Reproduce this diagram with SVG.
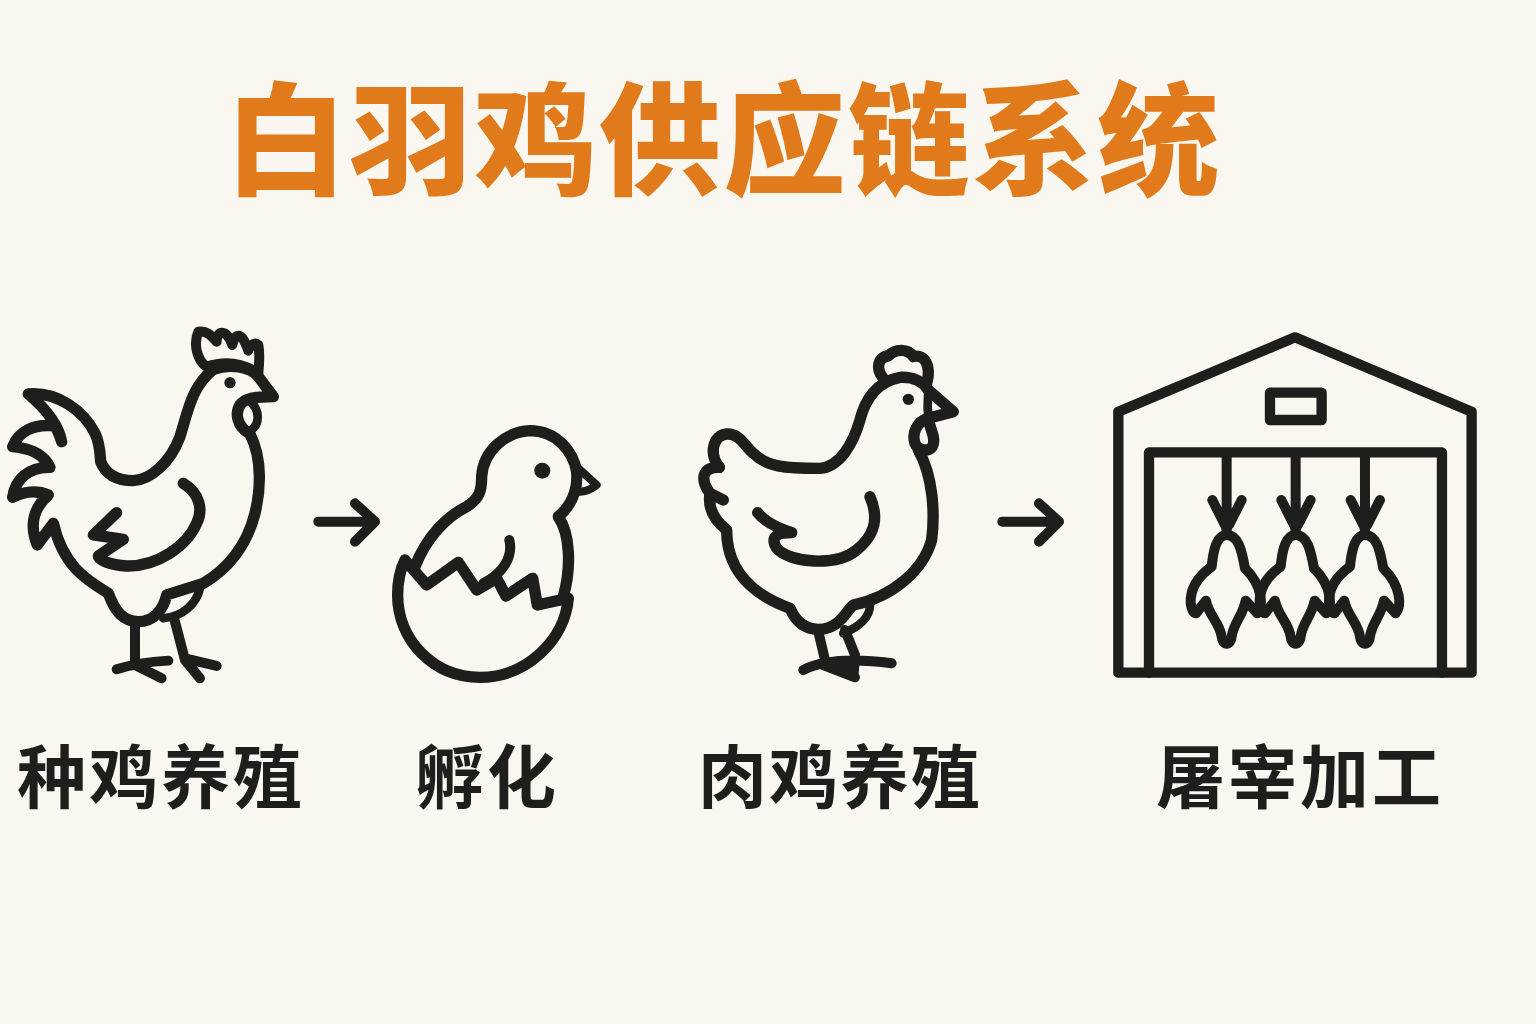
<svg xmlns="http://www.w3.org/2000/svg" width="1536" height="1024" viewBox="0 0 1536 1024">
<style>
.ln{fill:none;stroke:#1e1e1c;stroke-width:34;stroke-linecap:round;stroke-linejoin:round}
.fl{fill:#1e1e1c}
.ttl{font-family:"Noto Sans CJK SC",sans-serif;font-weight:900;font-size:122px;fill:#E07A1B;letter-spacing:2.6px}
.lbl{font-family:"Noto Sans CJK SC",sans-serif;font-weight:700;font-size:69px;fill:#1e1e1c;letter-spacing:3px}
</style>
<defs>
<g id="carcass">
<path class="ln" style="stroke-width:30" d="M380 645C350 645 340 690 335 740C300 765 270 800 272 850C275 870 280 880 288 880L318 842C325 885 360 910 365 950C367 978 393 978 395 950C400 910 430 885 437 842L472 880C490 860 490 800 435 745C425 690 415 645 380 645Z"/>
<path class="ln" style="stroke-width:30" d="M380 400V610M337 540L375 615M425 540L387 615"/>
<path class="fl" d="M358 585H402L394 640H366Z"/>
</g>
</defs>
<rect width="1536" height="1024" fill="#FAF7F0"/>
<text class="ttl" x="225" y="185">白羽鸡供应链系统</text>
<g id="connectors">
<path class="ln" style="stroke-width:30" transform="translate(300,410) scale(.3333)" d="M55 335H225M165 280L225 335L165 395"/>
<path class="ln" style="stroke-width:30" transform="translate(984,410) scale(.3333)" d="M55 335H225M165 280L225 335L165 395"/>
</g>
<g id="node-breeder">
<g transform="translate(0,310) scale(.3333)">
<path class="ln" d="M85 252C170 245 250 300 285 370C300 400 300 430 302 455C320 500 360 512 400 512C450 510 510 460 540 380C565 300 575 230 640 178C690 160 750 170 775 200L820 260C780 262 740 258 720 285C705 310 710 350 750 372C790 450 780 550 765 610C740 710 680 780 610 820L500 855C490 900 460 935 415 935C370 935 345 905 325 850C260 810 190 770 160 640L112 705C85 640 105 590 145 555C110 540 70 545 38 562C45 510 85 470 150 472C130 430 90 415 38 410C55 365 100 340 165 348C175 365 180 380 185 395C175 340 130 290 85 252Z"/>
<path class="ln" style="stroke-width:26" d="M745 270C785 300 780 350 745 365"/>
<path class="ln" style="stroke-width:30" d="M620 170C590 150 580 100 595 65C625 60 640 85 650 95C650 60 680 55 697 105C705 70 725 60 745 122C750 105 765 95 775 105C780 130 778 160 775 190M620 170C680 150 730 160 775 190"/>
<path class="ln" d="M550 520C600 550 610 600 590 640C560 710 470 770 380 768C330 765 295 750 295 738L370 688L280 675L350 608"/>
<path class="ln" style="stroke-width:26" d="M600 835C590 880 550 920 490 925"/>
<path class="ln" style="stroke-width:30" d="M405 940V1060M350 1078C400 1062 450 1055 505 1052M405 1065L485 1105M525 935L555 1050L600 1105M555 1045L650 1068"/>
<circle class="fl" cx="690" cy="218" r="17"/>
</g>
</g>
<g id="node-hatch">
<g transform="translate(300,410) scale(.3333)">
<path class="ln" d="M345 470C380 380 440 320 500 290C540 265 545 240 545 200C550 120 620 65 690 62C770 62 820 125 830 185C835 250 810 290 775 320C810 370 815 470 790 560"/>
<path class="ln" style="stroke-width:24" d="M835 175L890 225C870 240 855 245 840 245"/>
<circle class="fl" cx="727" cy="182" r="24"/>
<path class="ln" style="stroke-width:30" d="M628 390C640 440 610 490 550 520"/>
<path class="ln" d="M315 450L380 525L475 457L530 540L590 505L618 558L698 505L712 585L805 565C795 690 680 802 540 802C400 802 293 690 293 555C293 515 300 480 315 450Z"/>
</g>
</g>
<g id="node-broiler">
<g transform="translate(680,340) scale(.3333)">
<path class="ln" d="M118 382C85 340 100 285 140 282C180 280 195 320 220 340C260 380 310 385 420 385C480 380 520 310 540 240C555 180 590 125 660 112C700 110 730 125 745 150L820 215L745 235C710 245 695 280 705 310C715 335 770 345 760 290C755 270 750 260 745 240"/>
<path class="ln" style="stroke-width:26" d="M745 150C745 170 740 190 745 235"/>
<path class="ln" d="M715 330C760 410 765 520 755 600C730 690 640 770 520 795C500 810 480 868 415 868C370 868 345 840 330 805C260 780 140 720 140 570C90 530 85 490 90 460L130 480M90 460C60 420 65 380 118 382"/>
<path class="ln" style="stroke-width:26" d="M570 795C570 830 540 860 490 880"/>
<path class="ln" style="stroke-width:30" d="M415 875L435 960M495 870L525 945M370 990C430 960 520 955 635 970M430 975L525 1012"/>
<path class="fl" d="M425 960L540 958L535 1010L515 1020Z"/>
<circle class="fl" cx="685" cy="178" r="17"/>
<path class="ln" d="M570 470C600 540 580 590 530 630C470 680 330 670 290 625C270 590 290 578 335 578C280 560 250 540 233 518"/>
<path class="ln" d="M610 115C585 85 595 50 625 48C645 25 685 25 700 50C735 40 755 80 740 130"/>
</g>
</g>
<g id="node-plant">
<g transform="translate(1100,320) scale(.3333)">
<path class="ln" style="stroke-width:31" d="M55 1058V275L585 52L1115 275V1058Z"/>
<path class="ln" style="stroke-width:31" d="M147 1058V397H1026V1058"/>
<rect class="ln" style="stroke-width:31" x="510" y="218" width="155" height="82"/>
<use href="#carcass"/>
<use href="#carcass" x="207"/>
<use href="#carcass" x="415"/>
</g>
</g>
<g id="labels">
<text class="lbl" x="17" y="803">种鸡养殖</text>
<text class="lbl" x="415" y="803">孵化</text>
<text class="lbl" x="698" y="803" style="letter-spacing:2px">肉鸡养殖</text>
<text class="lbl" x="1156" y="803">屠宰加工</text>
</g>
</svg>
